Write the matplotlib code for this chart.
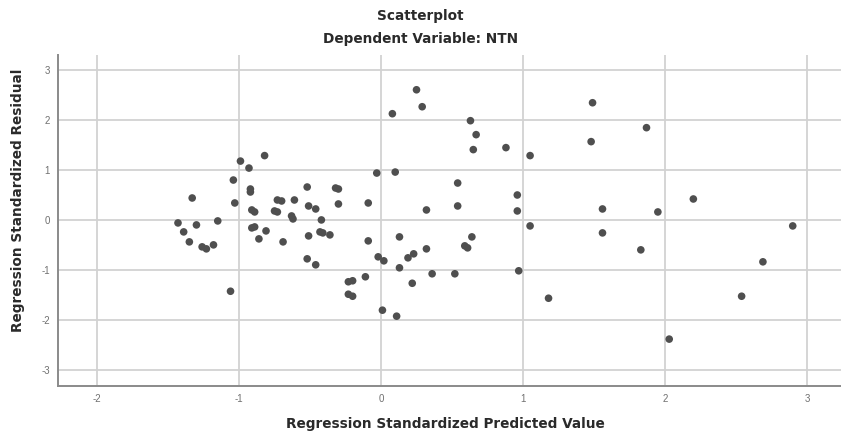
import numpy as np
import matplotlib
matplotlib.use("Agg")
import matplotlib.pyplot as plt

# 回归标准化预测值 / 回归标准化残差
pred = [-1.43, -1.39, -1.35, -1.33, -1.30, -1.26, -1.23, -1.18, -1.15, -1.06,
        -1.04, -1.03, -0.99, -0.93, -0.92, -0.92, -0.91, -0.89, -0.91, -0.89,
        -0.86, -0.82, -0.81, -0.75, -0.73, -0.73, -0.70, -0.69, -0.61, -0.63,
        -0.62, -0.52, -0.51, -0.46, -0.51, -0.52, -0.46, -0.42, -0.43, -0.41,
        -0.36, -0.32, -0.30, -0.30, -0.23, -0.20, -0.23, -0.20, -0.11, -0.09,
        -0.09, -0.03, -0.02, 0.02, 0.01, 0.08, 0.10, 0.11, 0.13, 0.13,
        0.19, 0.23, 0.22, 0.25, 0.29, 0.32, 0.32, 0.36, 0.52, 0.54,
        0.54, 0.59, 0.61, 0.64, 0.63, 0.67, 0.65, 0.88, 0.96, 0.96,
        0.97, 1.05, 1.05, 1.18, 1.48, 1.49, 1.56, 1.56, 1.83, 1.87,
        1.95, 2.03, 2.20, 2.54, 2.69, 2.90]
resid = [-0.06, -0.24, -0.44, 0.44, -0.10, -0.54, -0.58, -0.50, -0.02, -1.43,
         0.80, 0.34, 1.18, 1.04, 0.62, 0.56, 0.20, 0.16, -0.16, -0.14,
         -0.38, 1.29, -0.22, 0.18, 0.16, 0.40, 0.38, -0.44, 0.40, 0.08,
         0.02, 0.66, 0.28, 0.22, -0.32, -0.78, -0.90, 0.00, -0.24, -0.26,
         -0.30, 0.64, 0.62, 0.32, -1.24, -1.22, -1.49, -1.53, -1.14, 0.34,
         -0.42, 0.94, -0.74, -0.82, -1.81, 2.13, 0.96, -1.93, -0.34, -0.96,
         -0.76, -0.68, -1.27, 2.61, 2.27, 0.20, -0.58, -1.08, -1.08, 0.74,
         0.28, -0.52, -0.56, -0.34, 1.99, 1.71, 1.41, 1.45, 0.50, 0.18,
         -1.02, 1.29, -0.12, -1.57, 1.57, 2.35, 0.22, -0.26, -0.60, 1.85,
         0.16, -2.39, 0.42, -1.53, -0.84, -0.12]

xticks = [-2, -1, 0, 1, 2, 3]
yticks = [-3, -2, -1, 0, 1, 2, 3]

plt.rcParams['font.family'] = ['Liberation Sans', 'DejaVu Sans']
plt.rcParams['axes.unicode_minus'] = False

fig = plt.figure(figsize=(8.41, 4.32), dpi=100)
ax = fig.add_axes([0.069, 0.1065, 0.931, 0.7665])

ax.scatter(pred, resid, s=30, color='#4f4f4f', edgecolors='none', zorder=3)

ax.set_xlim(-2.275, 3.24)
ax.set_ylim(-3.33, 3.31)
ax.set_xticks(xticks)
ax.set_yticks(yticks)
ax.grid(True, color='#d2d2d2', linewidth=1.3)
ax.set_axisbelow(True)
ax.tick_params(length=0, labelsize=7, colors='#707070', pad=6)

for s in ['top', 'right']:
    ax.spines[s].set_visible(False)
for s in ['left', 'bottom']:
    ax.spines[s].set_color('#8a8a8a')
    ax.spines[s].set_linewidth(1.4)

# 标题和坐标轴标签用较宽的粗体
txt = dict(ha='center', va='center', fontweight='bold', color='#2a2a2a',
           family='DejaVu Sans')
fig.text(0.5, 1 - 16 / 432, 'Scatterplot', fontsize=9.8, **txt)
fig.text(0.5, 1 - 39 / 432, 'Dependent Variable: NTN', fontsize=9.8, **txt)
fig.text(0.529, 1 - 424 / 432, 'Regression Standardized Predicted Value',
         fontsize=9.8, **txt)
fig.text(18 / 841, 1 - 200 / 432, 'Regression Standardized Residual',
         fontsize=9.8, rotation=90, **txt)

plt.savefig('out.png', dpi=100)
